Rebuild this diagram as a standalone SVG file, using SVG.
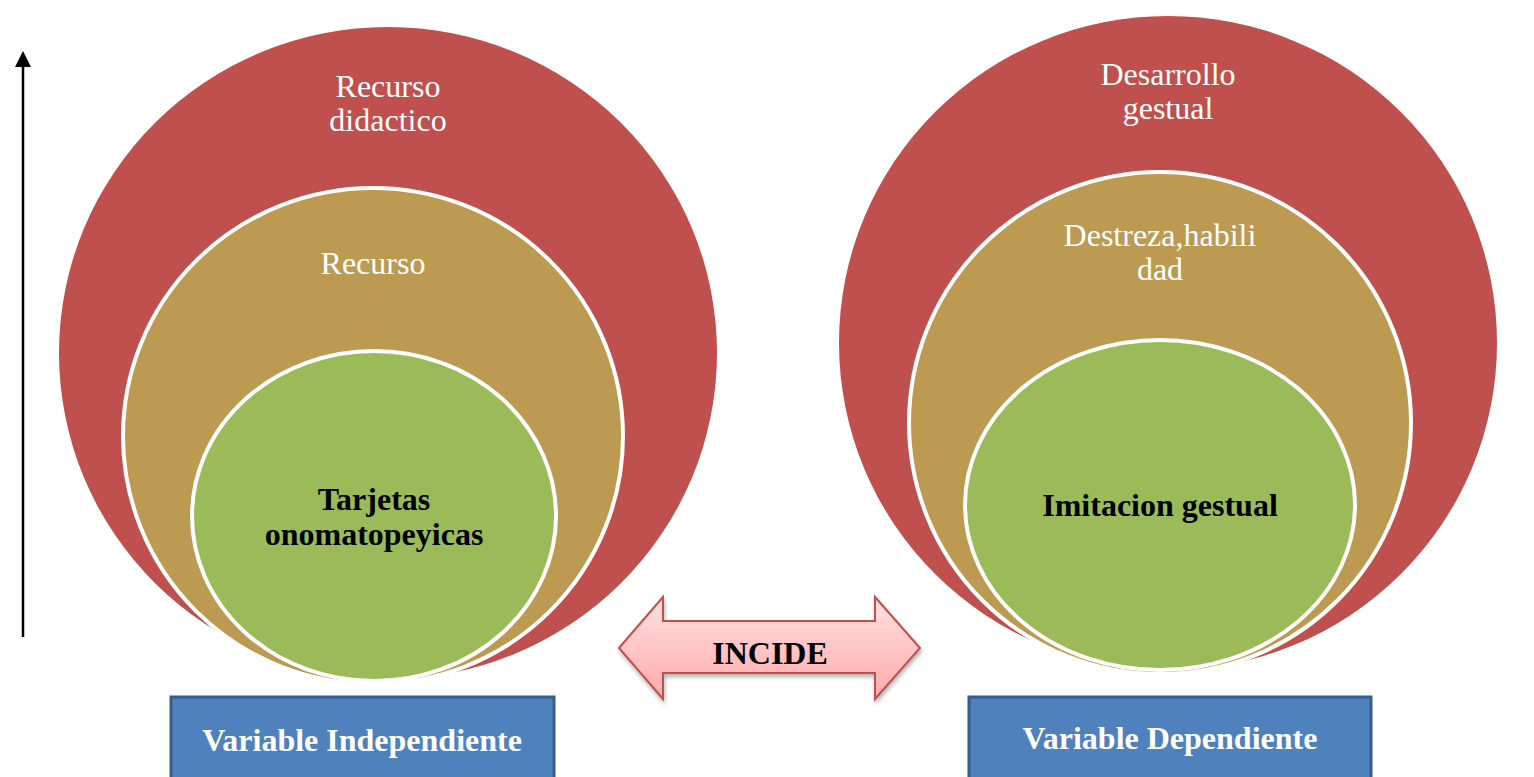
<svg xmlns="http://www.w3.org/2000/svg" width="1534" height="777" viewBox="0 0 1534 777">
<defs>
<style>
.red{fill:#c0504d;}
.tan{fill:#bd9a52;stroke:#fff;stroke-width:4;}
.grn{fill:#9bbb59;stroke:#fff;stroke-width:4;}
.wt{font-family:"Liberation Serif","Times New Roman",serif;font-size:32px;fill:#fff;text-anchor:middle;}
.bt{font-family:"Liberation Serif","Times New Roman",serif;font-size:32px;font-weight:bold;fill:#000;text-anchor:middle;}
.box{fill:#4f81bd;stroke:#385d8a;stroke-width:3;}
.bx{font-family:"Liberation Serif","Times New Roman",serif;font-size:32px;font-weight:bold;fill:#fff;text-anchor:middle;}
</style>
<linearGradient id="pg" x1="0" y1="0" x2="0" y2="1">
<stop offset="0" stop-color="#ffe0e0"/>
<stop offset="1" stop-color="#ffaaaa"/>
</linearGradient>
<filter id="sh" x="-10%" y="-10%" width="120%" height="130%">
<feDropShadow dx="1" dy="3" stdDeviation="2" flood-color="#000" flood-opacity="0.3"/>
</filter>
</defs>
<rect width="1534" height="777" fill="#fff"/>
<g id="connectors">
<line x1="23" y1="637" x2="23" y2="66" stroke="#000" stroke-width="2.5"/>
<path d="M15,67 L23,51 L31,67 Z" fill="#000"/>
</g>
<g id="left-outer">
<ellipse class="red" cx="388" cy="353" rx="329" ry="326"/>
<text class="wt" x="388" y="97">Recurso</text>
<text class="wt" x="388" y="131">didactico</text>
</g>
<g id="left-middle">
<ellipse class="tan" cx="373" cy="436" rx="250" ry="248"/>
<text class="wt" x="373" y="274">Recurso</text>
</g>
<g id="left-inner">
<ellipse class="grn" cx="374" cy="516" rx="182" ry="165"/>
<text class="bt" x="374" y="510">Tarjetas</text>
<text class="bt" x="374" y="545">onomatopeyicas</text>
</g>
<g id="right-outer">
<ellipse class="red" cx="1168" cy="343" rx="329" ry="327"/>
<text class="wt" x="1168" y="85">Desarrollo</text>
<text class="wt" x="1168" y="119">gestual</text>
</g>
<g id="right-middle">
<ellipse class="tan" cx="1160" cy="423" rx="251" ry="251"/>
<text class="wt" x="1160" y="246">Destreza,habili</text>
<text class="wt" x="1160" y="280">dad</text>
</g>
<g id="right-inner">
<ellipse class="grn" cx="1160" cy="505" rx="195" ry="165"/>
<text class="bt" x="1160" y="516">Imitacion gestual</text>
</g>
<g id="incide">
<path d="M619,648 L663,597 L663,621 L875,621 L875,597 L920,648 L875,699 L875,673 L663,673 L663,699 Z" fill="url(#pg)" stroke="#c0504d" stroke-width="2" filter="url(#sh)"/>
<text class="bt" x="770" y="664">INCIDE</text>
</g>
<g id="var-indep">
<rect class="box" x="171" y="697" width="383" height="90"/>
<text class="bx" x="362" y="751">Variable Independiente</text>
</g>
<g id="var-dep">
<rect class="box" x="969" y="697" width="402" height="90"/>
<text class="bx" x="1170" y="749">Variable Dependiente</text>
</g>
</svg>
